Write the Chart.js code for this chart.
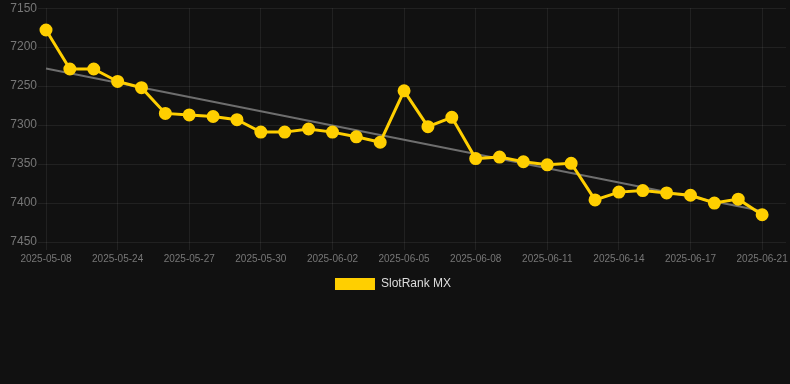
<!DOCTYPE html>
<html>
<head>
<meta charset="utf-8">
<script src="https://cdn.jsdelivr.net/npm/chart.js@4"></script>
<style>
html,body{margin:0;padding:0;background:#111111;}
#wrap{position:relative;width:790px;height:300px;}
</style>
</head>
<body>
<div id="wrap"><canvas id="c"></canvas></div>
<script>
const dates = ["2025-05-08","2025-05-22","2025-05-23","2025-05-24","2025-05-25","2025-05-26","2025-05-27","2025-05-28","2025-05-29","2025-05-30","2025-05-31","2025-06-01","2025-06-02","2025-06-03","2025-06-04","2025-06-05","2025-06-06","2025-06-07","2025-06-08","2025-06-09","2025-06-10","2025-06-11","2025-06-12","2025-06-13","2025-06-14","2025-06-15","2025-06-16","2025-06-17","2025-06-18","2025-06-19","2025-06-21"];
const rankValues = [7178,7228,7228,7244,7252,7285,7287,7289,7293,7309,7309,7305,7309,7315,7322,7256,7302,7290,7343,7341,7347,7351,7349,7396,7386,7384,7387,7390,7400,7395,7415];
const yTicks = [7150,7200,7250,7300,7350,7400,7450];
const seriesName = "SlotRank MX";

// linear trend from the series
const n = rankValues.length;
let sx=0, sy=0, sxy=0, sxx=0;
rankValues.forEach((v,i)=>{sx+=i; sy+=v; sxy+=i*v; sxx+=i*i;});
const slope = (n*sxy - sx*sy)/(n*sxx - sx*sx);
const intercept = (sy - slope*sx)/n;
const trendValues = rankValues.map((v,i)=> intercept + slope*i);

const labels = dates.concat([""]);
const gridColor = "rgba(255,255,255,0.07)";
Chart.defaults.font.family = "'Liberation Sans', Arial, sans-serif";

new Chart(document.getElementById('c'), {
  type: 'line',
  data: {
    labels: labels,
    datasets: [
      {
        label: seriesName,
        data: rankValues,
        borderColor: '#ffcf00',
        backgroundColor: '#ffcf00',
        borderWidth: 3,
        pointRadius: 5,
        pointHoverRadius: 5,
        pointBackgroundColor: '#ffcf00',
        pointBorderColor: '#ffcf00',
        tension: 0,
        clip: false,
        order: 1
      },
      {
        label: 'trend',
        data: trendValues,
        borderColor: '#6e6e6e',
        borderWidth: 2,
        pointRadius: 0,
        fill: false,
        order: 2
      }
    ]
  },
  options: {
    responsive: true,
    maintainAspectRatio: false,
    animation: false,
    layout: { autoPadding: false, padding: { top: 6, right: 4 } },
    plugins: {
      legend: {
        position: 'bottom',
        labels: {
          color: '#dddddd',
          font: { size: 12 },
          boxWidth: 40,
          boxHeight: 12,
          generateLabels: chart => Chart.defaults.plugins.legend.labels.generateLabels(chart)
            .filter(l => l.datasetIndex === 0)
            .map(l => Object.assign(l, { lineWidth: 0 }))
        }
      },
      tooltip: { enabled: false }
    },
    scales: {
      x: {
        grid: {
          color: ctx => (ctx.index % 3 === 0 && ctx.index < dates.length) ? gridColor : 'transparent',
          tickLength: 8
        },
        border: { display: false },
        ticks: {
          autoSkip: false,
          maxRotation: 0,
          color: '#777777',
          font: { size: 10 },
          callback: function(val, idx) { return (idx % 3 === 0 && idx < dates.length) ? labels[idx] : ''; }
        }
      },
      y: {
        reverse: true,
        min: yTicks[0],
        max: yTicks[yTicks.length-1],
        afterBuildTicks: axis => { axis.ticks = yTicks.map(v => ({value: v})); },
        afterFit: axis => { axis.width = 46; },
        grid: { color: gridColor, tickLength: 8 },
        border: { display: false },
        ticks: {
          color: '#777777',
          font: { size: 12 },
          padding: 1,
          callback: v => String(v)
        }
      }
    }
  }
});
</script>
</body>
</html>
